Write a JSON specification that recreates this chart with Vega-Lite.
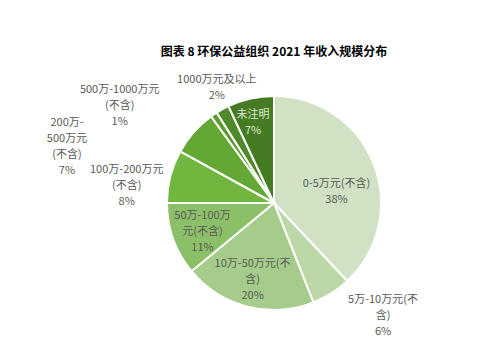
{
  "$schema": "https://vega.github.io/schema/vega-lite/v6.json",
  "width": 452,
  "height": 280,
  "autosize": "none",
  "padding": {"left": 48, "top": 63, "right": 0, "bottom": 21},
  "background": "white",
  "title": {
    "text": "图表  8  环保公益组织 2021 年收入规模分布",
    "anchor": "middle",
    "font": "Noto Sans CJK SC",
    "fontSize": 12,
    "fontWeight": "bold",
    "color": "#000000",
    "offset": 0,
    "dy": 20
  },
  "data": {
    "values": [
      {"i": 1, "cat": "0-5万元(不含)", "v": 38, "label": "0-5万元(不含)\n38%"},
      {"i": 2, "cat": "5万-10万元(不含)", "v": 6, "label": "5万-10万元(不\n含)\n6%"},
      {"i": 3, "cat": "10万-50万元(不含)", "v": 20, "label": "10万-50万元(不\n含)\n20%"},
      {"i": 4, "cat": "50万-100万元(不含)", "v": 11, "label": "50万-100万\n元(不含)\n11%"},
      {"i": 5, "cat": "100万-200万元(不含)", "v": 8, "label": "100万-200万元\n(不含)\n8%"},
      {"i": 6, "cat": "200万-500万元(不含)", "v": 7, "label": "200万-\n500万元\n(不含)\n7%"},
      {"i": 7, "cat": "500万-1000万元(不含)", "v": 1, "label": "500万-1000万元\n(不含)\n1%"},
      {"i": 8, "cat": "1000万元及以上", "v": 2, "label": "1000万元及以上\n2%"},
      {"i": 9, "cat": "未注明", "v": 7, "label": "未注明\n7%"}
    ]
  },
  "encoding": {
    "theta": {"field": "v", "type": "quantitative", "stack": true},
    "order": {"field": "i", "type": "quantitative"}
  },
  "layer": [
    {
      "mark": {"type": "arc", "outerRadius": 107, "stroke": "white", "strokeWidth": 2},
      "encoding": {
        "color": {
          "field": "cat",
          "type": "nominal",
          "scale": {
            "domain": ["0-5万元(不含)", "5万-10万元(不含)", "10万-50万元(不含)", "50万-100万元(不含)", "100万-200万元(不含)", "200万-500万元(不含)", "500万-1000万元(不含)", "1000万元及以上", "未注明"],
            "range": ["#d0e2c3", "#bcd8a9", "#a6cc8b", "#8cc068", "#71b63e", "#63a834", "#5a9a2e", "#4f8a2a", "#457b23"]
          },
          "legend": null
        }
      }
    },
    {
      "mark": {"type": "text", "radius": 64, "dx": 3, "dy": 5, "font": "Noto Sans CJK SC", "fontSize": 11, "fill": "#595959", "lineBreak": "\n", "lineHeight": 16, "align": "center", "baseline": "middle"},
      "encoding": {"text": {"condition": {"test": "datum.i === 1", "field": "label", "type": "nominal"}, "value": ""}}
    },
    {
      "mark": {"type": "text", "radius": 140, "dx": 34, "dy": -21, "font": "Noto Sans CJK SC", "fontSize": 11, "fill": "#595959", "lineBreak": "\n", "lineHeight": 16, "align": "center", "baseline": "middle"},
      "encoding": {"text": {"condition": {"test": "datum.i === 2", "field": "label", "type": "nominal"}, "value": ""}}
    },
    {
      "mark": {"type": "text", "radius": 78, "dx": -2, "dy": -15, "font": "Noto Sans CJK SC", "fontSize": 11, "fill": "#595959", "lineBreak": "\n", "lineHeight": 16, "align": "center", "baseline": "middle"},
      "encoding": {"text": {"condition": {"test": "datum.i === 3", "field": "label", "type": "nominal"}, "value": ""}}
    },
    {
      "mark": {"type": "text", "radius": 76, "dx": 0, "dy": -13, "font": "Noto Sans CJK SC", "fontSize": 11, "fill": "#595959", "lineBreak": "\n", "lineHeight": 16, "align": "center", "baseline": "middle"},
      "encoding": {"text": {"condition": {"test": "datum.i === 4", "field": "label", "type": "nominal"}, "value": ""}}
    },
    {
      "mark": {"type": "text", "radius": 150, "dx": -2, "dy": 4, "font": "Noto Sans CJK SC", "fontSize": 11, "fill": "#595959", "lineBreak": "\n", "lineHeight": 16, "align": "center", "baseline": "middle"},
      "encoding": {"text": {"condition": {"test": "datum.i === 5", "field": "label", "type": "nominal"}, "value": ""}}
    },
    {
      "mark": {"type": "text", "radius": 180, "dx": -72, "dy": 39, "font": "Noto Sans CJK SC", "fontSize": 11, "fill": "#595959", "lineBreak": "\n", "lineHeight": 16, "align": "center", "baseline": "middle"},
      "encoding": {"text": {"condition": {"test": "datum.i === 6", "field": "label", "type": "nominal"}, "value": ""}}
    },
    {
      "mark": {"type": "text", "radius": 150, "dx": -70, "dy": 11, "font": "Noto Sans CJK SC", "fontSize": 11, "fill": "#595959", "lineBreak": "\n", "lineHeight": 16, "align": "center", "baseline": "middle"},
      "encoding": {"text": {"condition": {"test": "datum.i === 7", "field": "label", "type": "nominal"}, "value": ""}}
    },
    {
      "mark": {"type": "text", "radius": 125, "dx": 3, "dy": -13, "font": "Noto Sans CJK SC", "fontSize": 11, "fill": "#595959", "lineBreak": "\n", "lineHeight": 16, "align": "center", "baseline": "middle"},
      "encoding": {"text": {"condition": {"test": "datum.i === 8", "field": "label", "type": "nominal"}, "value": ""}}
    },
    {
      "mark": {"type": "text", "radius": 82, "dx": -3, "dy": -8, "font": "Noto Sans CJK SC", "fontSize": 11, "fill": "#dce9d2", "lineBreak": "\n", "lineHeight": 16, "align": "center", "baseline": "middle"},
      "encoding": {"text": {"condition": {"test": "datum.i === 9", "field": "label", "type": "nominal"}, "value": ""}}
    }
  ],
  "config": {"view": {"stroke": null}}
}
